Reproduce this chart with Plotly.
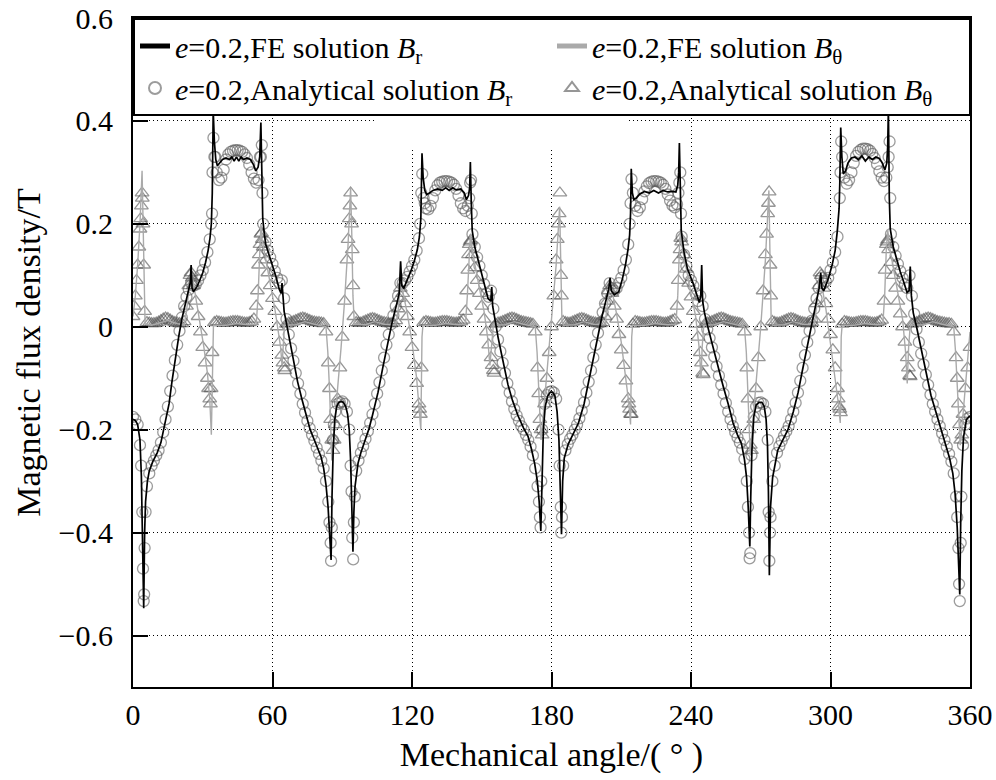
import plotly.graph_objects as go

# ---------------- FE solution B_r (angle, value) ----------------
fe_br_x = [0, 1, 2, 3, 3.6, 4.2, 4.6, 5.0, 5.4, 6.2, 7, 8.5, 10.4, 12, 14, 15.5, 16.8, 18.2, 19.7, 21, 22.6, 24, 24.6, 25, 25.4, 26, 27.5, 28.5, 30, 31.2, 32.3, 33.1, 33.7, 34.1, 34.5, 35.0, 35.6, 36.3, 37.2, 38.5, 40, 41.5, 42.5, 43.5, 44.5, 45.5, 46.5, 47.5, 49, 50.5, 51.8, 52.8, 53.8, 54.5, 55.0, 55.4, 55.8, 56.5, 57.1, 58.5, 60, 61.5, 62.9, 63.7, 64.1, 64.4, 65, 66.5, 67.9, 69.4, 70.8, 72.6, 74.4, 76.2, 78, 79.5, 80.9, 82, 83, 83.9, 84.6, 85.2, 85.6, 86.1, 86.8, 87.6, 88.5, 89.5, 90.5, 91.5,
           92.3, 93.0, 93.6, 94.1, 94.6, 95.0, 95.5, 96.8, 98, 100, 101.5, 103, 105.4, 107.5, 109.7, 111.5, 113.3, 114.5, 115.1, 115.6, 116.5, 118, 119.5, 121, 122.3, 123.2, 123.8, 124.3, 124.8, 125.5, 126.3, 127.5, 129, 131, 133, 134.5, 136, 137.5, 139, 141, 142.5, 143.4, 144.3, 144.8, 145.1, 145.5, 145.9, 147, 148.5, 149.8, 151.2, 152.7, 153.9, 154.3, 154.7, 155.6, 157, 158.5, 160, 161.3, 163.2, 165.6, 168, 169.9, 171.4, 172.8, 173.9, 174.7, 175.4, 175.9, 176.5, 177.3, 178.3, 179.5, 180.5, 181.5,
           182.4, 183.2, 183.8, 184.3, 184.8, 185.5, 187.2, 189, 191.6, 194, 196, 198.8, 201.7, 203.2, 204.6, 205.2, 205.7, 207, 208.9, 210.5, 211.8, 212.9, 213.6, 214.0, 214.3, 214.8, 215.4, 216.5, 218, 220, 222, 224, 226, 228, 230, 232, 233.5, 234.3, 234.7, 235.0, 235.4, 235.8, 237, 238.5, 240.7, 242.5, 243.6, 244.2, 244.6, 245.0, 245.8, 247.5, 249.4, 251.5, 253.7, 256, 258.1, 260, 261.7, 263, 263.9, 264.6, 265.3, 265.7, 266.2, 267, 268, 269.3, 270.5, 271.5,
           272.3, 272.9, 273.3, 273.7, 274.2, 275.1, 277.3, 279.5, 281.7, 284, 286.1, 288, 290.5, 292, 293.4, 295.1, 295.8, 296.3, 297.1, 299, 300.7, 302, 302.9, 303.7, 304.0, 304.4, 304.9, 305.5, 306.5, 307.5, 309, 310.5, 312, 313.5, 315, 316.5, 318, 319.5, 321, 322.3, 323.4, 324.2, 324.6, 324.9, 325.3, 325.7, 327, 328.5, 330, 331.5, 332.9, 333.8, 334.3, 334.8, 335.6, 337, 338.8, 341, 343.2, 345.5, 347.5, 349.5, 351.2, 352.6, 353.6, 354.5, 355.1, 355.6, 356.0, 356.5, 357.2, 358.5, 360]
fe_br_y = [-0.180, -0.182, -0.19, -0.22, -0.29, -0.42, -0.547, -0.40, -0.34, -0.30, -0.28, -0.262, -0.245, -0.225, -0.185, -0.15, -0.105, -0.06, -0.018, 0.015, 0.045, 0.07, 0.085, 0.12, 0.075, 0.068, 0.078, 0.088, 0.105, 0.125, 0.148, 0.172, 0.2, 0.26, 0.42, 0.36, 0.325, 0.313, 0.318, 0.325, 0.328, 0.325, 0.33, 0.322, 0.33, 0.322, 0.33, 0.325, 0.328, 0.325, 0.315, 0.303, 0.31, 0.33, 0.397, 0.26, 0.21, 0.18, 0.16, 0.14, 0.12, 0.097, 0.073, 0.065, 0.085, 0.06, 0.03, -0.005, -0.04, -0.073, -0.107, -0.14, -0.173, -0.2, -0.22, -0.237, -0.253, -0.275, -0.307, -0.35, -0.40, -0.453, -0.33, -0.24, -0.18, -0.155, -0.147, -0.145, -0.147, -0.155,
           -0.17, -0.20, -0.26, -0.34, -0.437, -0.36, -0.31, -0.265, -0.245, -0.218, -0.198, -0.172, -0.127, -0.078, -0.027, 0.01, 0.042, 0.065, 0.127, 0.08, 0.075, 0.09, 0.108, 0.128, 0.15, 0.175, 0.21, 0.337, 0.29, 0.265, 0.257, 0.26, 0.265, 0.268, 0.265, 0.27, 0.265, 0.27, 0.266, 0.268, 0.26, 0.247, 0.255, 0.27, 0.32, 0.24, 0.187, 0.155, 0.13, 0.108, 0.082, 0.055, 0.05, 0.077, 0.04, 0.013, -0.02, -0.053, -0.085, -0.113, -0.143, -0.173, -0.197, -0.213, -0.238, -0.267, -0.3, -0.34, -0.397, -0.28, -0.2, -0.155, -0.135, -0.127, -0.127, -0.135,
           -0.165, -0.22, -0.3, -0.403, -0.3, -0.255, -0.228, -0.21, -0.187, -0.15, -0.107, -0.04, 0.02, 0.047, 0.073, 0.095, 0.07, 0.062, 0.068, 0.093, 0.12, 0.15, 0.178, 0.22, 0.307, 0.26, 0.247, 0.25, 0.258, 0.263, 0.26, 0.265, 0.26, 0.265, 0.262, 0.263, 0.262, 0.275, 0.3, 0.357, 0.25, 0.187, 0.145, 0.112, 0.087, 0.062, 0.047, 0.06, 0.12, 0.05, 0.027, -0.005, -0.04, -0.077, -0.113, -0.15, -0.187, -0.21, -0.227, -0.258, -0.293, -0.35, -0.427, -0.33, -0.24, -0.175, -0.152, -0.147, -0.147, -0.155,
           -0.18, -0.23, -0.32, -0.483, -0.35, -0.293, -0.24, -0.22, -0.2, -0.165, -0.127, -0.083, -0.027, 0.01, 0.04, 0.075, 0.105, 0.075, 0.07, 0.093, 0.12, 0.148, 0.185, 0.23, 0.28, 0.387, 0.33, 0.297, 0.303, 0.318, 0.328, 0.33, 0.325, 0.332, 0.322, 0.33, 0.325, 0.33, 0.327, 0.318, 0.305, 0.318, 0.35, 0.425, 0.25, 0.19, 0.155, 0.13, 0.107, 0.087, 0.067, 0.07, 0.117, 0.06, 0.027, 0.0, -0.04, -0.085, -0.133, -0.168, -0.197, -0.228, -0.255, -0.285, -0.325, -0.39, -0.46, -0.52, -0.38, -0.28, -0.215, -0.18, -0.173]

# ---------------- FE solution B_theta (angle, value) ----------------
fe_bt_x = [0, 1, 2, 3, 3.9, 4.3, 4.7, 5.2, 8, 12, 15, 19, 22, 23, 24, 25, 26, 27.5, 29, 30.5, 32, 33, 33.7, 34.2, 34.6, 40, 45, 50, 53, 53.8, 54.5, 55, 55.5, 57, 59, 61, 62.5, 63.5, 64.1, 64.5, 65.2, 70, 74, 78, 83, 83.8, 84.6, 85.5, 86.5, 88, 89.5, 91, 92.5, 93.6, 94.1, 94.6, 95.2,
           100, 104, 108, 113, 114, 115, 116, 118, 120, 122, 123.2, 123.8, 124.3, 124.7, 130, 135, 140, 143, 143.8, 144.6, 145.1, 145.6, 147, 149, 151, 152.5, 153.5, 154.2, 155, 160, 164, 168, 173, 173.8, 174.6, 175.5, 176.5, 178, 180, 182, 183.5, 184.0, 184.5, 185.2,
           190, 194, 198, 203, 204, 205, 206, 208, 210, 212, 213.3, 214, 214.5, 214.9, 220, 225, 230, 233.5, 234.3, 235, 235.5, 236, 238, 240, 242, 243.5, 244.3, 244.8, 245.5, 250, 254, 258, 263, 263.8, 264.6, 265.5, 266.5, 268, 270, 272, 273.5, 274.0, 274.5, 275.2,
           280, 284, 288, 293, 294, 295.3, 296.3, 298, 300, 302, 303.4, 304.2, 304.6, 305, 310, 315, 320, 322.5, 323.3, 324, 324.6, 325.2, 327, 329, 331, 332.3, 333, 333.6, 334.3, 340, 344, 348, 353, 353.8, 354.7, 355.8, 357, 358.5, 360]
fe_bt_y = [0.02, 0.06, 0.12, 0.2, 0.303, 0.2, 0.06, 0.005, 0.003, 0.008, 0.012, 0.006, 0.003, 0.03, 0.07, 0.11, 0.085, 0.045, 0.005, -0.04, -0.09, -0.14, -0.21, -0.05, 0.003, 0.003, 0.006, 0.004, 0.005, 0.06, 0.15, 0.2, 0.17, 0.13, 0.085, 0.035, -0.005, -0.04, -0.075, -0.04, 0.003, 0.004, 0.01, 0.005, 0.0, -0.05, -0.13, -0.26, -0.2, -0.12, -0.04, 0.05, 0.16, 0.27, 0.18, 0.06, 0.005,
           0.004, 0.01, 0.005, 0.004, 0.03, 0.08, 0.07, 0.025, -0.03, -0.1, -0.16, -0.2, -0.02, 0.003, 0.003, 0.006, 0.004, 0.005, 0.06, 0.14, 0.18, 0.155, 0.12, 0.075, 0.03, -0.02, -0.075, -0.03, 0.003, 0.004, 0.01, 0.005, 0.0, -0.05, -0.13, -0.22, -0.17, -0.09, 0.0, 0.12, 0.233, 0.12, 0.01, 0.003,
           0.004, 0.01, 0.005, 0.004, 0.04, 0.08, 0.07, 0.025, -0.03, -0.1, -0.15, -0.19, -0.02, 0.003, 0.003, 0.006, 0.004, 0.005, 0.06, 0.15, 0.19, 0.16, 0.11, 0.065, 0.02, -0.04, -0.1, -0.04, 0.003, 0.004, 0.01, 0.005, 0.0, -0.05, -0.13, -0.25, -0.19, -0.11, 0.0, 0.13, 0.265, 0.13, 0.01, 0.003,
           0.004, 0.01, 0.005, 0.004, 0.04, 0.1, 0.08, 0.035, -0.03, -0.1, -0.15, -0.187, -0.02, 0.003, 0.003, 0.006, 0.004, 0.005, 0.06, 0.15, 0.19, 0.16, 0.115, 0.07, 0.015, -0.05, -0.11, -0.04, 0.003, 0.004, 0.01, 0.005, 0.0, -0.05, -0.13, -0.23, -0.17, -0.09, -0.01]

# ---------------- Analytical solutions (1 degree grid + extra points at steep parts) ----------------
ana_angles = list(range(0, 361))
ana_br_y = [
    -0.175, -0.18, -0.19, -0.23, -0.36, -0.43, -0.31, -0.285, -0.27, -0.26,
    -0.25, -0.24, -0.225, -0.205, -0.18, -0.155, -0.125, -0.095, -0.065, -0.035,
    -0.008, 0.018, 0.04, 0.058, 0.072, 0.085, 0.08, 0.082, 0.09, 0.1,
    0.11, 0.125, 0.145, 0.17, 0.22, 0.33, 0.30, 0.285, 0.29, 0.305,
    0.325, 0.335, 0.34, 0.342, 0.343, 0.343, 0.342, 0.34, 0.335, 0.328,
    0.315, 0.3, 0.288, 0.28, 0.285, 0.33, 0.2, 0.165, 0.148, 0.135,
    0.122, 0.108, 0.095, 0.085, 0.09, 0.055, 0.015, -0.015, -0.042, -0.066,
    -0.09, -0.11, -0.13, -0.15, -0.167, -0.183, -0.197, -0.21, -0.222, -0.235,
    -0.247, -0.26, -0.275, -0.3, -0.34, -0.42, -0.22, -0.165, -0.15, -0.147,
    -0.145, -0.15, -0.165, -0.2, -0.32, -0.38, -0.28, -0.26, -0.245, -0.232,
    -0.218, -0.203, -0.187, -0.17, -0.15, -0.13, -0.108, -0.085, -0.06, -0.035,
    -0.015, 0.005, 0.022, 0.04, 0.06, 0.085, 0.085, 0.09, 0.097, 0.107,
    0.118, 0.13, 0.148, 0.172, 0.26, 0.25, 0.23, 0.228, 0.235, 0.25,
    0.265, 0.275, 0.28, 0.282, 0.283, 0.283, 0.282, 0.28, 0.276, 0.268,
    0.255, 0.24, 0.23, 0.225, 0.235, 0.28, 0.18, 0.155, 0.135, 0.118,
    0.1, 0.083, 0.065, 0.058, 0.07, 0.035, 0.0, -0.025, -0.048, -0.07,
    -0.09, -0.11, -0.128, -0.145, -0.16, -0.172, -0.183, -0.193, -0.2, -0.21,
    -0.22, -0.233, -0.25, -0.275, -0.31, -0.37, -0.2, -0.15, -0.133, -0.127,
    -0.125, -0.128, -0.14, -0.2, -0.35, -0.27, -0.24, -0.228, -0.218, -0.21,
    -0.2, -0.19, -0.178, -0.163, -0.147, -0.128, -0.107, -0.085, -0.06, -0.035,
    -0.012, 0.008, 0.028, 0.045, 0.065, 0.085, 0.075, 0.07, 0.075, 0.085,
    0.095, 0.11, 0.13, 0.16, 0.24, 0.26, 0.235, 0.225, 0.232, 0.248,
    0.263, 0.273, 0.279, 0.282, 0.283, 0.283, 0.282, 0.28, 0.276, 0.268,
    0.257, 0.245, 0.236, 0.232, 0.238, 0.28, 0.175, 0.14, 0.118, 0.1,
    0.09, 0.08, 0.065, 0.05, 0.06, 0.04, 0.015, -0.005, -0.022, -0.04,
    -0.058, -0.077, -0.095, -0.113, -0.13, -0.148, -0.165, -0.18, -0.193, -0.205,
    -0.215, -0.225, -0.238, -0.257, -0.3, -0.4, -0.25, -0.175, -0.155, -0.148,
    -0.147, -0.15, -0.165, -0.22, -0.4, -0.3, -0.27, -0.245, -0.232, -0.222,
    -0.212, -0.203, -0.193, -0.18, -0.165, -0.148, -0.128, -0.105, -0.08, -0.055,
    -0.03, -0.008, 0.012, 0.035, 0.055, 0.075, 0.095, 0.085, 0.088, 0.095,
    0.11, 0.125, 0.145, 0.175, 0.25, 0.33, 0.29, 0.278, 0.285, 0.3,
    0.318, 0.332, 0.34, 0.344, 0.346, 0.346, 0.345, 0.342, 0.336, 0.328,
    0.316, 0.302, 0.29, 0.283, 0.29, 0.33, 0.18, 0.155, 0.138, 0.122,
    0.108, 0.095, 0.083, 0.075, 0.1, 0.06, 0.025, -0.005, -0.03, -0.052,
    -0.073, -0.093, -0.113, -0.132, -0.15, -0.165, -0.18, -0.193, -0.207, -0.22,
    -0.233, -0.247, -0.262, -0.285, -0.33, -0.43, -0.42, -0.23, -0.19, -0.178,
    -0.175]
ana_br_extra_x = [3.5, 4.3, 4.6, 4.8, 5.4, 33.6, 34.2, 34.6, 35.4, 54.6, 55.4, 55.7,
                  84.5, 85.2, 85.5, 86.4, 93.6, 94.3, 94.7, 95.4, 123.5, 124.4, 125.5,
                  144.6, 145.4, 145.7, 174.6, 175.3, 175.6, 183.5, 184.2, 184.5, 213.6, 214.4,
                  234.6, 235.4, 235.7, 264.5, 265.2, 265.5, 273.4, 273.7, 274.2, 304.3, 304.6,
                  324.6, 325.4, 325.7, 354.5, 355.3, 355.6, 356.3]
ana_br_extra_y = [-0.27, -0.47, -0.533, -0.52, -0.36, 0.2, 0.3, 0.367, 0.33, 0.33, 0.353, 0.26,
                  -0.38, -0.455, -0.39, -0.19, -0.27, -0.41, -0.452, -0.33, 0.2, 0.297, 0.24,
                  0.25, 0.285, 0.22, -0.34, -0.39, -0.3, -0.27, -0.4, -0.37, 0.2, 0.287,
                  0.26, 0.3, 0.22, -0.35, -0.45, -0.44, -0.36, -0.455, -0.37, 0.3, 0.36,
                  0.31, 0.36, 0.25, -0.37, -0.5, -0.533, -0.33]

ana_bt_y = [
    0.02, 0.06, 0.12, 0.19, 0.25, 0.03, 0.008, 0.007, 0.006, 0.006,
    0.007, 0.009, 0.012, 0.015, 0.017, 0.016, 0.013, 0.01, 0.008, 0.007,
    0.006, 0.006, 0.01, 0.04, 0.08, 0.105, 0.08, 0.05, 0.02, -0.01,
    -0.04, -0.07, -0.1, -0.14, -0.05, 0.008, 0.01, 0.009, 0.008, 0.007,
    0.007, 0.008, 0.009, 0.01, 0.01, 0.01, 0.009, 0.008, 0.007, 0.007,
    0.008, 0.01, 0.015, 0.04, 0.12, 0.18, 0.155, 0.13, 0.105, 0.08,
    0.055, 0.03, 0.0, -0.03, -0.055, -0.08, 0.005, 0.007, 0.008, 0.01,
    0.012, 0.014, 0.016, 0.017, 0.016, 0.014, 0.012, 0.01, 0.009, 0.008,
    0.008, 0.007, 0.006, -0.01, -0.07, -0.18, -0.24, -0.19, -0.14, -0.08,
    -0.02, 0.05, 0.13, 0.21, 0.2, 0.02, 0.008, 0.007, 0.007, 0.009,
    0.011, 0.013, 0.015, 0.016, 0.015, 0.013, 0.011, 0.009, 0.008, 0.007,
    0.006, 0.006, 0.007, 0.012, 0.035, 0.075, 0.065, 0.045, 0.02, -0.01,
    -0.04, -0.075, -0.11, -0.15, -0.08, 0.008, 0.01, 0.009, 0.008, 0.007,
    0.007, 0.008, 0.009, 0.01, 0.01, 0.01, 0.009, 0.008, 0.007, 0.007,
    0.008, 0.01, 0.013, 0.03, 0.11, 0.165, 0.14, 0.115, 0.09, 0.065,
    0.04, 0.015, -0.01, -0.035, -0.06, -0.085, 0.005, 0.007, 0.008, 0.01,
    0.012, 0.014, 0.016, 0.017, 0.016, 0.014, 0.012, 0.01, 0.009, 0.008,
    0.007, 0.006, 0.005, -0.01, -0.08, -0.18, -0.21, -0.15, -0.1, -0.05,
    0.0, 0.06, 0.13, 0.2, 0.1, 0.01, 0.008, 0.007, 0.007, 0.009,
    0.011, 0.013, 0.015, 0.016, 0.015, 0.013, 0.011, 0.009, 0.008, 0.007,
    0.006, 0.006, 0.008, 0.02, 0.05, 0.08, 0.065, 0.04, 0.015, -0.015,
    -0.045, -0.075, -0.105, -0.14, -0.17, 0.005, 0.01, 0.009, 0.008, 0.007,
    0.007, 0.008, 0.009, 0.01, 0.01, 0.01, 0.009, 0.008, 0.007, 0.007,
    0.008, 0.01, 0.012, 0.014, 0.04, 0.13, 0.165, 0.14, 0.112, 0.085,
    0.058, 0.03, 0.005, -0.02, -0.05, -0.09, 0.005, 0.007, 0.008, 0.01,
    0.012, 0.014, 0.016, 0.017, 0.016, 0.014, 0.012, 0.01, 0.009, 0.008,
    0.007, 0.006, 0.005, -0.01, -0.08, -0.2, -0.24, -0.18, -0.12, -0.06,
    0.0, 0.07, 0.14, 0.22, 0.12, 0.01, 0.008, 0.007, 0.007, 0.009,
    0.011, 0.013, 0.015, 0.016, 0.015, 0.013, 0.011, 0.009, 0.008, 0.007,
    0.006, 0.006, 0.008, 0.015, 0.045, 0.08, 0.1, 0.075, 0.045, 0.015,
    -0.015, -0.045, -0.08, -0.12, -0.16, 0.005, 0.01, 0.009, 0.008, 0.007,
    0.007, 0.008, 0.009, 0.01, 0.01, 0.01, 0.009, 0.008, 0.007, 0.007,
    0.008, 0.01, 0.013, 0.05, 0.16, 0.15, 0.125, 0.1, 0.075, 0.05,
    0.025, 0.0, -0.03, -0.06, -0.095, 0.005, 0.007, 0.008, 0.01, 0.012,
    0.014, 0.016, 0.017, 0.016, 0.014, 0.012, 0.01, 0.009, 0.008, 0.007,
    0.006, 0.006, 0.005, -0.01, -0.06, -0.15, -0.22, -0.17, -0.12, -0.08,
    -0.04]
ana_bt_extra_x = [0.5, 1.5, 2.5, 3.3, 3.6, 3.9, 4.3, 4.6, 24.5, 25.5, 32.5, 33.3, 33.6,
                  53.5, 54.3, 54.6, 55.3, 55.6, 64.5, 65.3, 84.5, 85.5, 86.5, 92.5, 93.3, 93.6, 94.3, 94.6,
                  114.5, 123.3, 123.6, 143.5, 144.3, 144.6, 145.3, 154.5, 155.3,
                  174.5, 175.5, 182.5, 183.3, 183.6, 184.3, 204.5, 213.3, 213.6, 214.3,
                  234.5, 235.3, 235.6, 244.5, 245.3, 264.5, 265.5, 272.5, 273.3, 273.6, 274.3,
                  295.5, 303.3, 303.6, 304.3, 323.5, 324.3, 324.6, 333.5, 334.3, 354.5, 355.5, 356.5]
ana_bt_extra_y = [0.04, 0.09, 0.155, 0.21, 0.235, 0.26, 0.2, 0.12, 0.1, 0.095, -0.12, -0.15, -0.12,
                  0.07, 0.14, 0.16, 0.182, 0.17, -0.07, -0.085, -0.12, -0.22, -0.22, 0.17, 0.235, 0.26, 0.15, 0.08,
                  0.055, -0.16, -0.17, 0.07, 0.14, 0.16, 0.168, -0.075, -0.09,
                  -0.13, -0.2, 0.17, 0.22, 0.26, 0.06, 0.07, -0.15, -0.16, -0.17,
                  0.09, 0.15, 0.172, -0.07, -0.093, -0.14, -0.23, 0.18, 0.24, 0.262, 0.06,
                  0.105, -0.14, -0.155, -0.167, 0.11, 0.165, 0.169, -0.08, -0.097, -0.1, -0.19, -0.21]

y_ticks = [-0.6, -0.4, -0.2, 0, 0.2, 0.4, 0.6]
x_ticks = [0, 60, 120, 180, 240, 300, 360]

names = {
    "fe_br": "<i>e</i>=0.2,FE solution <i>B</i><sub>r</sub>",
    "fe_bt": "<i>e</i>=0.2,FE solution <i>B</i><sub>θ</sub>",
    "ana_br": "<i>e</i>=0.2,Analytical solution <i>B</i><sub>r</sub>",
    "ana_bt": "<i>e</i>=0.2,Analytical solution <i>B</i><sub>θ</sub>",
}

FONT = "Liberation Serif, Times New Roman, serif"

fig = go.Figure()
fig.add_trace(go.Scatter(
    x=ana_angles + ana_bt_extra_x, y=ana_bt_y + ana_bt_extra_y, mode="markers",
    name=names["ana_bt"], legendrank=4,
    marker=dict(symbol="triangle-up-open", size=12, color="rgba(80,80,80,0.6)",
                line=dict(width=1.3, color="rgba(80,80,80,0.6)"))))
fig.add_trace(go.Scatter(
    x=ana_angles + ana_br_extra_x, y=ana_br_y + ana_br_extra_y, mode="markers",
    name=names["ana_br"], legendrank=3,
    marker=dict(symbol="circle-open", size=11, color="rgba(90,90,90,0.6)",
                line=dict(width=1.3, color="rgba(90,90,90,0.6)"))))
fig.add_trace(go.Scatter(
    x=fe_bt_x, y=fe_bt_y, mode="lines", name=names["fe_bt"], legendrank=2,
    line=dict(color="rgb(170,170,170)", width=1.4)))
fig.add_trace(go.Scatter(
    x=fe_br_x, y=fe_br_y, mode="lines", name=names["fe_br"], legendrank=1,
    line=dict(color="black", width=1.7)))

# white area that hides the grid behind the legend region (as in the original)
fig.add_shape(type="rect", xref="x", yref="y", x0=104, x1=213, y0=0.345, y1=0.6,
              fillcolor="white", line=dict(width=0), layer="between")

axis_common = dict(
    showline=True, linecolor="black", linewidth=2, mirror=True,
    showgrid=True, gridcolor="black", gridwidth=1, griddash="1px,3px",
    zeroline=False, ticks="inside", ticklen=15, tickwidth=2, tickcolor="black",
    tickfont=dict(family=FONT, size=30, color="black"),
)

fig.update_layout(
    width=996, height=780,
    margin=dict(l=133, r=26, t=18, b=93),
    paper_bgcolor="white", plot_bgcolor="white",
    font=dict(family=FONT, color="black"),
    xaxis=dict(range=[0, 360], tickvals=x_ticks, ticklabelstandoff=0,
               title=dict(text="Mechanical angle/( ° )", font=dict(family=FONT, size=34), standoff=12),
               automargin=False, **axis_common),
    yaxis=dict(range=[-0.7, 0.6], tickvals=y_ticks, ticklabelstandoff=12,
               title=dict(text="Magnetic flux density/T", font=dict(family=FONT, size=34), standoff=8),
               automargin=False, **axis_common),
    legend=dict(orientation="h", x=0, y=1, xanchor="left", yanchor="top",
                bgcolor="white", bordercolor="black", borderwidth=2,
                entrywidth=372, entrywidthmode="pixels",
                font=dict(family=FONT, size=30, color="black"),
                itemsizing="constant"),
    showlegend=True,
)

fig.write_html("out.html", config={"displayModeBar": False},
               post_script="document.body.style.margin='0px';document.body.style.overflow='hidden';")
